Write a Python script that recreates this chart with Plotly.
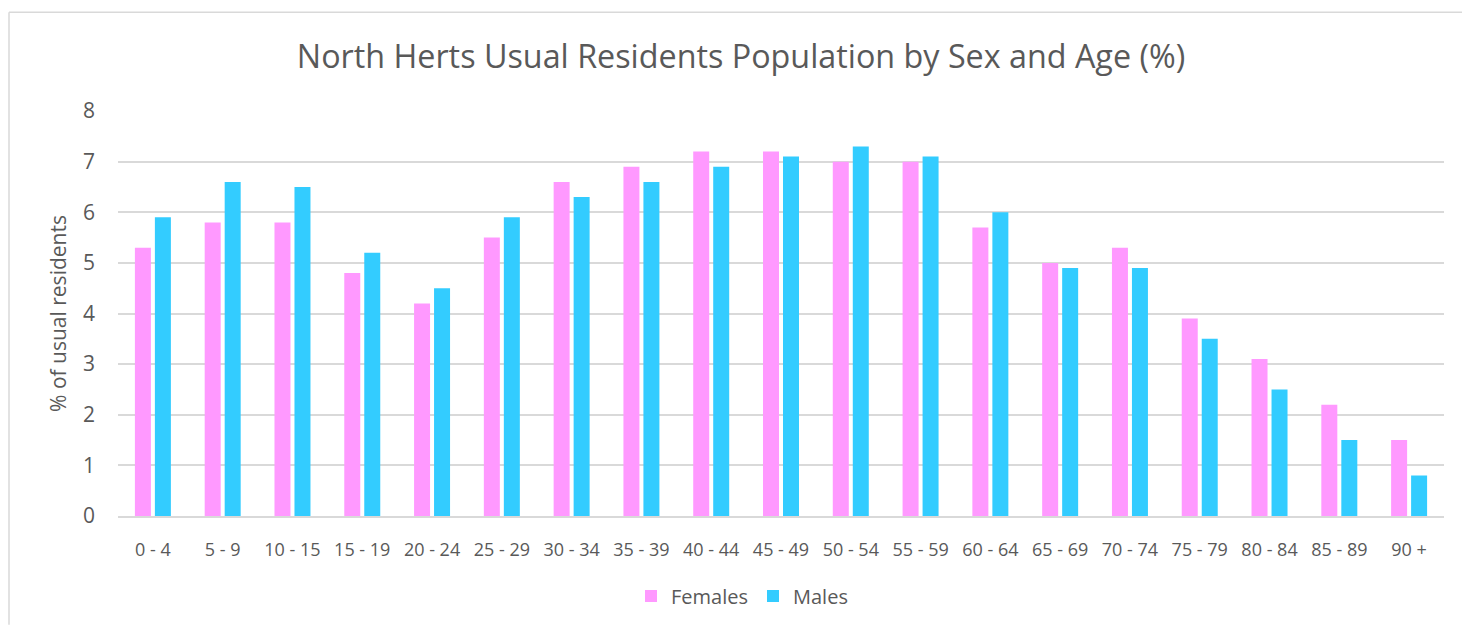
import plotly.graph_objects as go

age_groups = ["0 - 4", "5 - 9", "10 - 15", "15 - 19", "20 - 24", "25 - 29", "30 - 34",
              "35 - 39", "40 - 44", "45 - 49", "50 - 54", "55 - 59", "60 - 64", "65 - 69",
              "70 - 74", "75 - 79", "80 - 84", "85 - 89", "90 +"]
females = [5.3, 5.8, 5.8, 4.8, 4.2, 5.5, 6.6, 6.9, 7.2, 7.2, 7.0, 7.0, 5.7, 5.0, 5.3, 3.9, 3.1, 2.2, 1.5]
males = [5.9, 6.6, 6.5, 5.2, 4.5, 5.9, 6.3, 6.6, 6.9, 7.1, 7.3, 7.1, 6.0, 4.9, 4.9, 3.5, 2.5, 1.5, 0.8]
y_ticks = [0, 1, 2, 3, 4, 5, 6, 7, 8]

FONT = "'Open Sans', sans-serif"
GREY = "#595959"

fig = go.Figure()
fig.add_trace(go.Bar(name="Females", x=age_groups, y=females,
                     marker=dict(color="#FF99FF", line=dict(width=0))))
fig.add_trace(go.Bar(name="Males", x=age_groups, y=males,
                     marker=dict(color="#33CCFF", line=dict(width=0))))

W, H = 1462, 626
L, R, T, B = 118, 18, 111, 109
pw, ph = W - L - R, H - T - B

bx0, bx1 = (9 - L) / pw, (W - L) / pw
by0, by1 = (517 - H) / ph, (517 - 12) / ph
border = dict(color="#d9d9d9", width=1.5)

fig.update_layout(
    width=W, height=H, autosize=False,
    margin=dict(l=L, r=R, t=T, b=B, pad=0),
    paper_bgcolor="white", plot_bgcolor="white",
    barmode="group", bargap=0.427, bargroupgap=0.2,
    font=dict(family=FONT, color=GREY, size=18),
    title=dict(text="North Herts Usual Residents Population by Sex and Age (%)",
               x=741 / W, xanchor="center", y=1 - 57 / H, yanchor="middle",
               font=dict(family=FONT, size=32.3, color=GREY)),
    legend=dict(orientation="h", x=(742 - L) / pw, xanchor="center",
                y=(517 - 596) / ph, yanchor="middle",
                font=dict(family=FONT, size=20, color=GREY),
                itemwidth=30, traceorder="normal"),
    xaxis=dict(showgrid=False, showline=True, linecolor="#d9d9d9", linewidth=1.5,
               ticks="", ticklabelstandoff=17, tickfont=dict(size=18, color=GREY)),
    yaxis=dict(range=[0, 8], tickvals=y_ticks, showgrid=True, gridcolor="#d9d9d9",
               gridwidth=1.5, zeroline=False, ticks="", ticklabelstandoff=22,
               tickfont=dict(size=21, color=GREY),
               title=dict(text="% of usual residents", standoff=10,
                          font=dict(size=21, color=GREY))),
    shapes=[
        dict(type="line", xref="paper", yref="paper", x0=bx0, x1=bx1, y0=by1, y1=by1,
             line=border, layer="below"),
        dict(type="line", xref="paper", yref="paper", x0=bx0, x1=bx0, y0=by0, y1=by1,
             line=border, layer="below"),
    ],
)

fig.write_html(
    "out.html", config={"displayModeBar": False},
    post_script=("document.body.style.margin='0';"
                 "document.body.style.overflow='hidden';"
                 "document.documentElement.style.overflow='hidden';"))
